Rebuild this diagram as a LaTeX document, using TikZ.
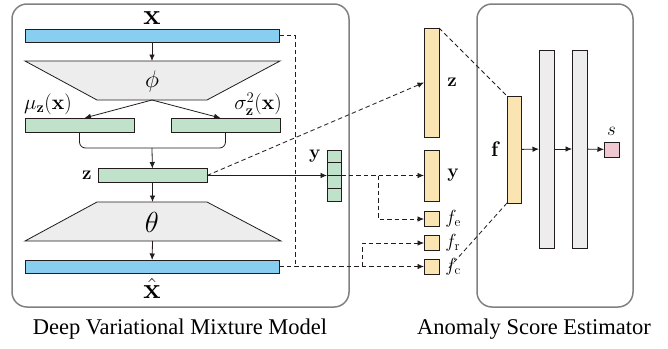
\RequirePackage{fix-cm}
\documentclass[tikz,border=0pt]{standalone}
\usepackage{amsmath}
\usepackage[no-math]{fontspec}
\setmainfont{Liberation Serif}
\usetikzlibrary{arrows.meta,positioning}

\definecolor{ink}{RGB}{35,28,28}
\definecolor{panelgray}{RGB}{128,128,128}
\definecolor{inblue}{RGB}{135,206,240}
\definecolor{latgreen}{RGB}{192,226,202}
\definecolor{featyellow}{RGB}{250,229,178}
\definecolor{layergray}{RGB}{237,237,237}
\definecolor{scorepink}{RGB}{240,200,210}

\begin{document}
\begin{tikzpicture}[
    x=1pt, y=-1pt,
    >={Latex[length=6.5pt,width=5.5pt]},
    line width=0.8pt,
    bar/.style={
        draw=ink,
        inner sep=0pt,
        outer sep=0pt
    },
    inbar/.style={bar, fill=inblue, minimum width=254pt, minimum height=13pt},
    latbar/.style={bar, fill=latgreen, minimum width=109pt, minimum height=14pt},
    ycell/.style={bar, fill=latgreen, minimum width=14pt, minimum height=12.75pt},
    featbar/.style={bar, fill=featyellow, minimum width=15pt},
    layerbar/.style={bar, fill=layergray, minimum width=15pt, minimum height=198pt},
    net/.style={draw=ink, fill=layergray},
    panel/.style={draw=panelgray, line width=1.5pt, rounded corners=15pt},
    conn/.style={draw=ink, ->},
    dconn/.style={draw=ink, dash pattern=on 4.5pt off 3pt},
    caption/.style={font=\fontsize{22.5}{26}\selectfont},
    biglabel/.style={font=\fontsize{29}{33}\selectfont, inner sep=0pt},
    philabel/.style={font=\fontsize{24}{28}\selectfont, inner sep=0pt},
    midlabel/.style={font=\fontsize{21}{25}\selectfont, inner sep=0pt},
    smalllabel/.style={font=\fontsize{19}{22}\selectfont, inner sep=0pt}
  ]
  \useasboundingbox (0,0) rectangle (668,348);

  % the two panels
  \draw [panel] (12,4) rectangle (349,307);
  \draw [panel] (477,4) rectangle (633,307);
  \node [caption] (capvae) at (180,329) {Deep Variational Mixture Model};
  \node [caption] (capest) at (534,329) {Anomaly Score Estimator};

  % encoder and decoder
  \node [inbar] (xin) at (152,35.5) {};
  \node [biglabel, above=4pt of xin] (xlabel) {$\mathbf{x}$};
  \draw [net] (25,61) -- (280,61) -- (207,100) -- (97,100) -- cycle;
  \coordinate (enctop) at (152,61);
  \coordinate (encbot) at (152,100);
  \node [philabel] (phi) at (152,81) {$\phi$};

  \node [latbar] (mu) at (79.5,125) {};
  \node [latbar] (sigma) at (225.5,125) {};
  \node [midlabel] (mulabel) at (48,104) {$\mu_{\mathbf{z}}(\mathbf{x})$};
  \node [midlabel] (sigmalabel) at (258,104) {$\sigma_{\mathbf{z}}^{2}(\mathbf{x})$};
  \draw [conn] (xin) -- (enctop);
  \draw [conn] (encbot) -- ([xshift=5pt]mu.north);
  \draw [conn] (encbot) -- ([xshift=-5pt]sigma.north);
  \draw [draw=ink, rounded corners=6pt] (mu.south) -- ++(0,16) -| (sigma.south);
  \coordinate (join) at (152,148);

  \node [latbar] (zlat) at (152.5,175.5) {};
  \node [smalllabel, left=6pt of zlat] (zlabel) {$\mathbf{z}$};
  \draw [conn] (join) -- (zlat);

  \draw [net] (97,202) -- (207,202) -- (281,241) -- (25,241) -- cycle;
  \coordinate (dectop) at (152.5,202);
  \coordinate (decbot) at (152.5,241);
  \node [biglabel] (theta) at (152,222) {$\theta$};
  \draw [conn] (zlat) -- (dectop);

  \node [inbar] (xrec) at (152,266.5) {};
  \node [biglabel, below=5pt of xrec] (xreclabel) {$\hat{\mathbf{x}}$};
  \draw [conn] (decbot) -- (xrec);

  % cluster vector y
  \foreach \i in {0,...,3}
    \node [ycell] (yc\i) at (334,156.375+\i*12.75) {};
  \node [smalllabel, left=6pt of yc0] (ylabel) {$\mathbf{y}$};

  % feature pieces
  \node [featbar, minimum height=109pt] (zfeat) at (431.5,82.5) {};
  \node [featbar, minimum height=51pt] (yfeat) at (431.5,175.5) {};
  \node [featbar, minimum height=15pt] (fe) at (431.5,219) {};
  \node [featbar, minimum height=15pt] (fr) at (431.5,243) {};
  \node [featbar, minimum height=15pt] (fc) at (431.5,266.5) {};
  \node [smalllabel, right=8pt of zfeat] {$\mathbf{z}$};
  \node [smalllabel, right=8pt of yfeat] {$\mathbf{y}$};
  \node [smalllabel, right=6pt of fe] {$f_{\mathrm{e}}$};
  \node [smalllabel, right=6pt of fr] {$f_{\mathrm{r}}$};
  \node [smalllabel, right=6pt of fc] {$f_{\mathrm{c}}$};

  % connections into the features
  \draw [conn] (zlat.east) -- (yc1.south west);
  \draw [dconn, ->] (zlat.east) -- (zfeat.west);
  \draw [dconn, ->] (yc1.south east) -- (yfeat.west);
  \coordinate (esplit) at (378,175.5);
  \draw [dconn, ->] (esplit) |- (fe.west);
  \coordinate (tap) at (295,266.5);
  \draw [dconn] (xin.east) -| (tap);
  \draw [dconn, ->] (xrec.east) -- (fc.west);
  \coordinate (rsplit) at (362,266.5);
  \draw [dconn, ->] (rsplit) |- (fr.west);

  % estimation network
  \node [featbar, minimum width=14pt, minimum height=107pt] (fvec) at (514,149.5) {};
  \node [midlabel, left=6pt of fvec] (flabel) {$\mathbf{f}$};
  \node [layerbar] (h1) at (546.5,149) {};
  \node [layerbar] (h2) at (579.5,149) {};
  \node [bar, fill=scorepink, minimum size=15pt] (score) at (611.5,149.5) {};
  \node [smalllabel, above=6pt of score] (slabel) {$s$};
  \draw [conn] (fvec) -- (h1);
  \draw [conn] (h1) -- (h2);
  \draw [conn] (h2) -- (score);
  \coordinate (ctail) at (447,270);
  \draw [dconn] (zfeat.north east) -- (fvec.north west);
  \draw [dconn] (fvec.south west) -- (ctail);
\end{tikzpicture}
\end{document}
